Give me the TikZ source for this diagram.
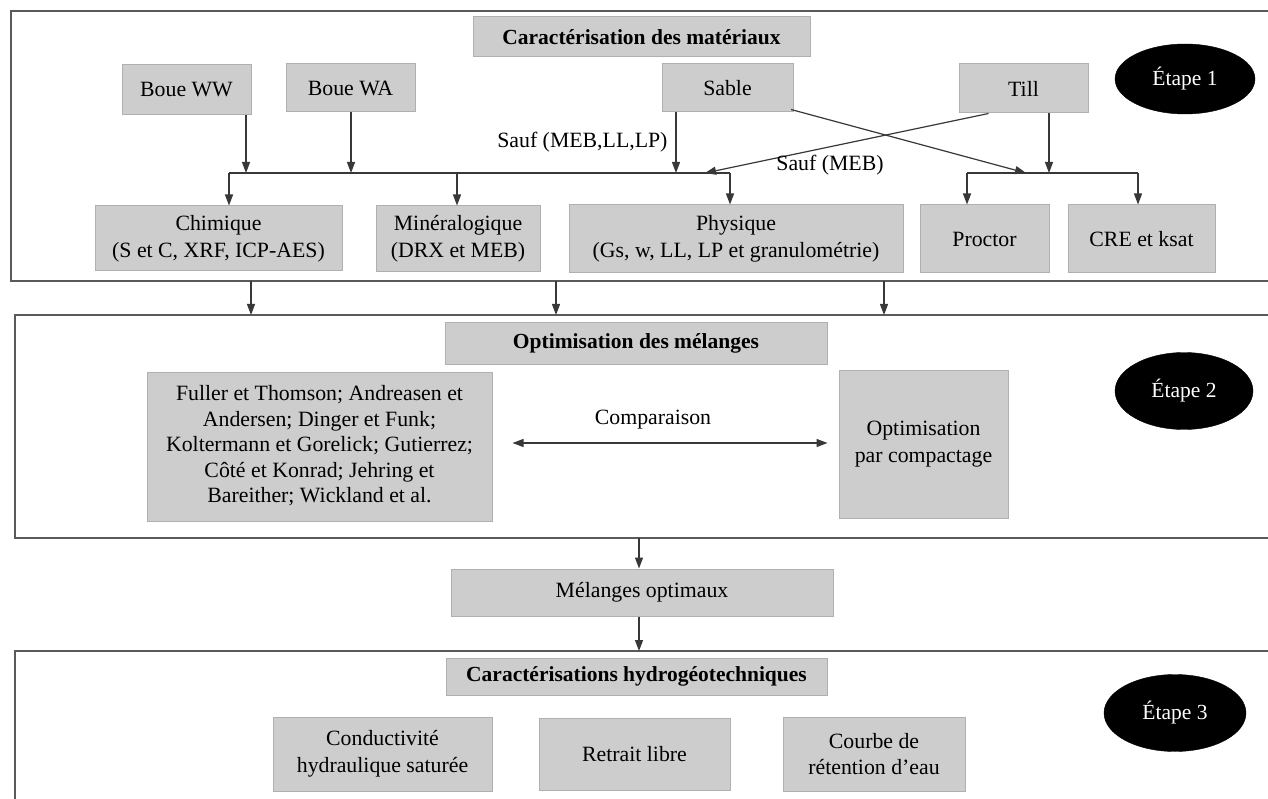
\documentclass[tikz,border=0pt]{standalone}
\usepackage{fontspec}
\setmainfont{Liberation Serif}
\usetikzlibrary{arrows.meta,shapes.geometric,calc}
\definecolor{boxfill}{HTML}{CDCDCD}
\definecolor{boxline}{HTML}{B0B0B0}
\definecolor{lin}{HTML}{383838}
\definecolor{framec}{HTML}{5A5A5A}
\tikzset{
  txt/.style={font=\fontsize{21.8}{26.7}\selectfont, align=center},
  gbox/.style={txt, draw=boxline, line width=1pt, fill=boxfill, inner sep=0pt},
  ttl/.style={gbox, font=\fontsize{21.5}{26.7}\selectfont\bfseries},
  etape/.style={ellipse, fill=black, draw=black, inner sep=0pt, text=white, font=\fontsize{21.5}{26}\selectfont},
  conn/.style={draw=lin, line width=1.2pt},
  tip/.tip={Triangle[length=11pt,width=8pt]},
  arr/.style={conn, -tip},
  framebox/.style={draw=framec, line width=1.1pt},
}
\begin{document}
\begin{tikzpicture}[x=1pt,y=-1pt]
\useasboundingbox (0,0) rectangle (1268,799);
\fill[white] (0,0) rectangle (1268,799);
% frames
\draw[framebox] (1290,11) -- (11,11) -- (11,281) -- (1290,281);
\draw[framebox] (1290,315) -- (15,315) -- (15,538) -- (1290,538);
\draw[framebox] (1290,651) -- (15,651) -- (15,820);
\coordinate (f1a) at (251,281); \coordinate (f1b) at (556,281); \coordinate (f1c) at (884,281);
\coordinate (f2a) at (251,315); \coordinate (f2b) at (556,315); \coordinate (f2c) at (884,315);
\coordinate (f2bot) at (639,538);
\coordinate (f3top) at (639,651);

% ---------- Etape 1
\node[ttl, minimum width=337pt, minimum height=40pt] (t1) at (641.5,37) {Caractérisation des matériaux};
\node[gbox, minimum width=129pt, minimum height=50pt] (ww) at (186.5,90) {Boue WW};
\node[gbox, minimum width=129pt, minimum height=48pt] (wa) at (350.5,88) {Boue WA};
\node[gbox, minimum width=131pt, minimum height=48pt] (sable) at (727.5,88) {Sable};
\node[gbox, minimum width=129pt, minimum height=49pt] (till) at (1023.5,88.5) {Till};
\node[etape, minimum width=140pt, minimum height=70pt] (e1) at (1185,79) {Étape 1};
\node[gbox, minimum width=247pt, minimum height=65pt] (chim) at (218.5,238.5) {Chimique\\(S et C, XRF, ICP-AES)};
\node[gbox, minimum width=164pt, minimum height=66pt] (min) at (458,239) {Minéralogique\\(DRX et MEB)};
\node[gbox, minimum width=334pt, minimum height=68pt] (phys) at (736,239) {Physique\\(Gs, w, LL, LP et granulométrie)};
\node[gbox, minimum width=129pt, minimum height=68pt] (proc) at (984.5,239) {Proctor};
\node[gbox, minimum width=147pt, minimum height=68pt] (cre) at (1141.5,239) {CRE et ksat};

\coordinate (bl1) at (229,173); \coordinate (bl2) at (730,173);
\coordinate (bwx) at (246,173); \coordinate (bax) at (351,173);
\coordinate (bsx) at (676,173); \coordinate (bmx) at (457,173);
\coordinate (br1) at (967,173); \coordinate (br2) at (1138,173);
\coordinate (btx) at (1049,173);
\coordinate (dgl) at (705,173); \coordinate (dgr) at (1026,173);

\draw[conn] (bl1) -- (bl2);
\draw[conn] (br1) -- (br2);
\draw[arr] (ww.south -| bwx) -- (bwx);
\draw[arr] (wa.south -| bax) -- (bax);
\draw[arr] (sable.south -| bsx) -- (bsx);
\draw[arr] (till.south -| btx) -- (btx);
\draw[arr] (bl1) -- (chim.north -| bl1);
\draw[arr] (bmx) -- (min.north -| bmx);
\draw[arr] (bl2) -- (phys.north -| bl2);
\draw[arr] (br1) -- (proc.north -| br1);
\draw[arr] (br2) -- (cre.north -| br2);
\draw[arr] ([xshift=-35pt]till.south) -- (dgl);
\draw[arr] ([xshift=63.5pt,yshift=3pt]sable.south) -- (dgr);
\node[txt, anchor=east] (lab1) at (671,142) {Sauf (MEB,LL,LP)};
\node[txt] (lab2) at (830,165) {Sauf (MEB)};

\draw[arr] (f1a) -- (f2a);
\draw[arr] (f1b) -- (f2b);
\draw[arr] (f1c) -- (f2c);

% ---------- Etape 2
\node[ttl, minimum width=382pt, minimum height=41pt] (t2) at (636,343.5) {Optimisation des mélanges};
\node[gbox, minimum width=345pt, minimum height=149pt, font=\fontsize{21.8}{25.6}\selectfont] (fuller) at (319.5,446.5) {\raisebox{5pt}{\begin{tabular}{@{}c@{}}Fuller et Thomson; Andreasen et\\Andersen; Dinger et Funk;\\Koltermann et Gorelick; Gutierrez;\\Côté et Konrad; Jehring et\\Bareither; Wickland et al.\end{tabular}}};
\node[gbox, minimum width=169pt, minimum height=148pt] (comp) at (923.5,444) {Optimisation\\par compactage};
\node[etape, minimum width=138pt, minimum height=77pt] (e2) at (1184,391) {Étape 2};
\node[txt] (cmp) at (653,420) {Comparaison};
\draw[conn, tip-tip, shorten <=20pt, shorten >=11pt] (fuller.east |- 0,443) -- (comp.west |- 0,443);

% ---------- Melanges
\node[gbox, minimum width=382pt, minimum height=47pt] (mel) at (642,592.5) {Mélanges optimaux};
\draw[arr] (f2bot) -- (mel.north -| f2bot);
\draw[arr] (mel.south -| f3top) -- (f3top);

% ---------- Etape 3
\node[ttl, minimum width=381pt, minimum height=37pt] (t3) at (636.5,676.5) {Caractérisations hydrogéotechniques};
\node[gbox, minimum width=219pt, minimum height=74pt] (cond) at (382.5,754) {Conductivité\\hydraulique saturée};
\node[gbox, minimum width=191pt, minimum height=72pt] (retr) at (634.5,754) {Retrait libre};
\node[gbox, minimum width=182pt, minimum height=74pt] (courbe) at (874,754) {Courbe de\\rétention d'eau};
\node[etape, minimum width=142pt, minimum height=77pt] (e3) at (1175,713) {Étape 3};
\end{tikzpicture}
\end{document}
